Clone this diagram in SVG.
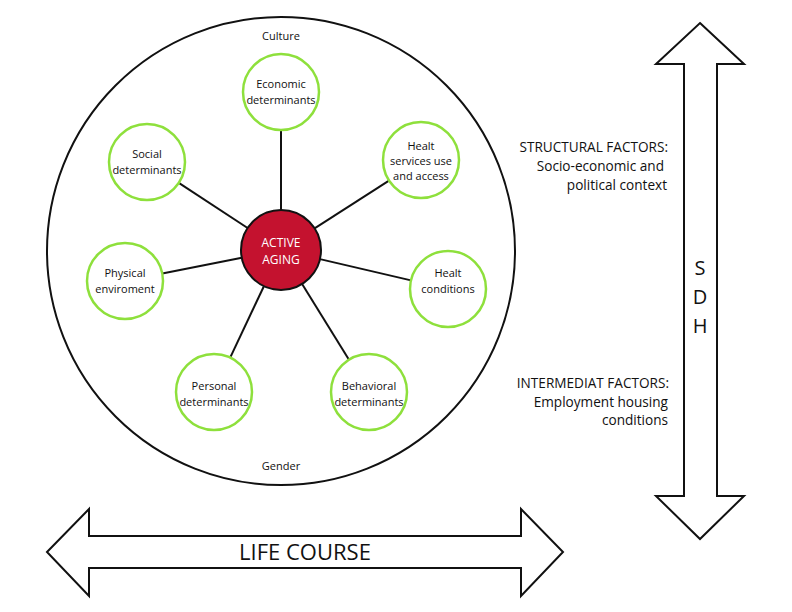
<svg xmlns="http://www.w3.org/2000/svg" width="792" height="612" viewBox="0 0 792 612">
<style>
.node{fill:#fff;stroke:#8ee03c;stroke-width:2.5}
.lbl{font-family:"Open Sans","Noto Sans",sans-serif;font-size:11px;fill:#111;text-anchor:middle}
.side{font-family:"Open Sans","Noto Sans",sans-serif;font-size:13.6px;fill:#111;text-anchor:end}
.big{font-family:"Open Sans","Noto Sans",sans-serif;fill:#111;text-anchor:middle}
.con line{stroke:#111;stroke-width:2}
.arrow{fill:#fff;stroke:#111;stroke-width:2;stroke-linejoin:miter}
</style>
<rect width="792" height="612" fill="#fff"/>
<g id="context">
<circle cx="281" cy="251" r="234" fill="#fff" stroke="#111" stroke-width="2"/>
<text class="lbl" x="281" y="40">Culture</text>
<text class="lbl" x="281" y="470">Gender</text>
</g>
<g class="con" id="connectors">
<line x1="281" y1="210" x2="281" y2="130"/>
<line x1="314.6" y1="228.4" x2="389" y2="180.6"/>
<line x1="247.6" y1="228" x2="178.8" y2="182.9"/>
<line x1="241.8" y1="257.8" x2="162.3" y2="273.6"/>
<line x1="320" y1="259.1" x2="411" y2="280.4"/>
<line x1="263.9" y1="286.2" x2="230.2" y2="357.6"/>
<line x1="302.1" y1="284" x2="349" y2="359.7"/>
</g>
<g id="active-aging">
<circle cx="281" cy="250" r="40" fill="#c4122f" stroke="#111" stroke-width="2"/>
<text class="big" x="281" y="247" font-size="12" style="fill:#fff">ACTIVE</text>
<text class="big" x="281" y="264" font-size="12" style="fill:#fff">AGING</text>
</g>
<g id="economic">
<circle class="node" cx="281" cy="92" r="38"/>
<text class="lbl" x="281" y="88">Economic</text>
<text class="lbl" x="281" y="104">determinants</text>
</g>
<g id="health-services">
<circle class="node" cx="421" cy="160" r="38"/>
<text class="lbl" x="421" y="150">Healt</text>
<text class="lbl" x="421" y="165">services use</text>
<text class="lbl" x="421" y="180">and access</text>
</g>
<g id="social">
<circle class="node" cx="147" cy="162" r="38"/>
<text class="lbl" x="147" y="158">Social</text>
<text class="lbl" x="147" y="174">determinants</text>
</g>
<g id="physical">
<circle class="node" cx="125" cy="281" r="38"/>
<text class="lbl" x="125" y="277">Physical</text>
<text class="lbl" x="125" y="293">enviroment</text>
</g>
<g id="health-conditions">
<circle class="node" cx="448" cy="289" r="38"/>
<text class="lbl" x="448" y="277">Healt</text>
<text class="lbl" x="448" y="293">conditions</text>
</g>
<g id="personal">
<circle class="node" cx="214" cy="392" r="38"/>
<text class="lbl" x="214" y="390">Personal</text>
<text class="lbl" x="214" y="406">determinants</text>
</g>
<g id="behavioral">
<circle class="node" cx="369" cy="392" r="38"/>
<text class="lbl" x="369" y="390">Behavioral</text>
<text class="lbl" x="369" y="406">determinants</text>
</g>
<g id="sdh-arrow">
<polygon class="arrow" points="700,23 744,64 717,64 717,496 744,496 700,539 656,496 684,496 684,64 656,64"/>
<text class="big" x="700" y="275" font-size="20">S</text>
<text class="big" x="700" y="304" font-size="20">D</text>
<text class="big" x="700" y="333" font-size="20">H</text>
</g>
<g id="factors">
<text class="side" x="668" y="152">STRUCTURAL FACTORS:</text>
<text class="side" x="664" y="171">Socio-economic and</text>
<text class="side" x="667" y="190">political context</text>
<text class="side" x="669" y="388">INTERMEDIAT FACTORS:</text>
<text class="side" x="668" y="407">Employment housing</text>
<text class="side" x="668" y="425">conditions</text>
</g>
<g id="life-course">
<polygon class="arrow" points="47,552 89,509 89,536 521,536 521,509 563,552 521,596 521,568 89,568 89,596"/>
<text class="big" x="305" y="560" font-size="22">LIFE COURSE</text>
</g>
</svg>
